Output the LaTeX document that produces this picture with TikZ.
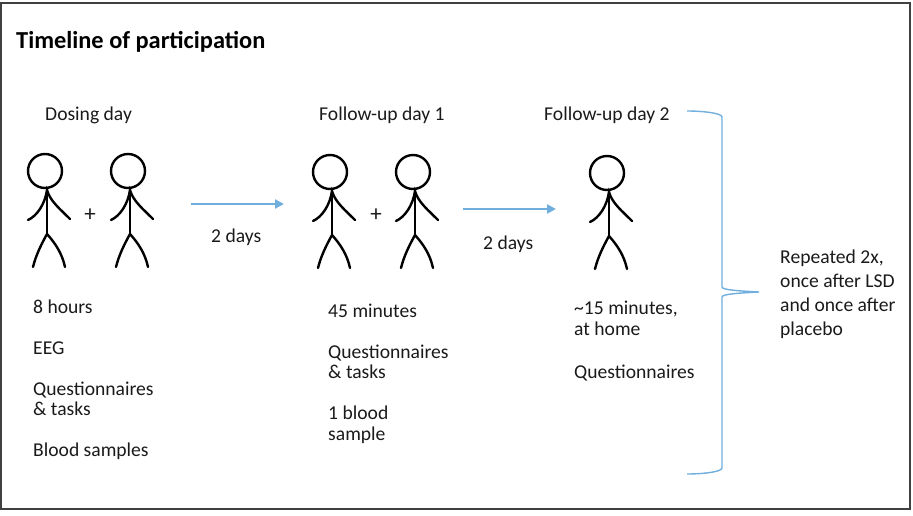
\documentclass[tikz,border=0pt]{standalone}
\usepackage{fontspec}
\setmainfont{Carlito}
\usetikzlibrary{arrows.meta}
\definecolor{arrowblue}{HTML}{6FAEDD}
\definecolor{inkc}{HTML}{1A1A1A}
\tikzset{
  txt/.style={anchor=base west,inner sep=0pt,font=\fontsize{19.6pt}{23pt}\selectfont,text=inkc,align=left},
  plus/.style={anchor=center,inner sep=0pt,font=\fontsize{23pt}{26pt}\selectfont,text=inkc},
  flow/.style={draw=arrowblue,line width=2.2pt,-{Stealth[length=9pt,width=9pt,inset=0pt]}},
  fig/.style={line width=2.4pt,black,line cap=round},
}
\newcommand{\stick}[2]{%
  \begin{scope}[shift={(#1,#2)}]
  \draw[fig] (0,0) circle (17);
  \draw[fig] (2,17) -- (2,63);
  \draw[fig] (-17,49) .. controls (-8,45) and (0,33) .. (2,19) .. controls (5,30) and (15,38) .. (25,48);
  \draw[fig] (-12,96) .. controls (-9,84) and (-4,74) .. (2,63) .. controls (10,72) and (17,82) .. (20,96);
  \end{scope}}
\begin{document}
\begin{tikzpicture}[x=1pt,y=-1pt]
\useasboundingbox (0,0) rectangle (913,516);
\draw[line width=1.2pt,black!75] (1,3) rectangle (910,509);
\node[txt,font=\fontsize{24.4pt}{28pt}\selectfont\bfseries,text=black] (title) at (16,49) {Timeline of participation};
\node[txt] (d1) at (45,121) {Dosing day};
\node[txt] (d2) at (319,121) {Follow-up day 1};
\node[txt] (d3) at (544,121) {Follow-up day 2};
\stick{45}{171}\stick{128}{171}\stick{330}{172}\stick{413}{172}\stick{607}{173}
\node[plus] (p1) at (90,215) {+};
\node[plus] (p2) at (376,215) {+};
\coordinate (a1s) at (191,204);\coordinate (a1e) at (284,204);
\coordinate (a2s) at (463,209);\coordinate (a2e) at (556,209);
\draw[flow] (a1s) -- (a1e);
\draw[flow] (a2s) -- (a2e);
\node[txt] (t1) at (211,242) {2 days};
\node[txt] (t2) at (483,249) {2 days};
\node[txt] at (33,313) {8 hours};
\node[txt] at (33,354) {EEG};
\node[txt] at (33,395) {Questionnaires};
\node[txt] at (33,415) {\&\ tasks};
\node[txt] at (33,456) {Blood samples};
\node[txt] at (328,317) {45 minutes};
\node[txt] at (328,358) {Questionnaires};
\node[txt] at (328,378) {\&\ tasks};
\node[txt] at (328,419) {1 blood};
\node[txt] at (328,440) {sample};
\node[txt] at (574,314) {\textasciitilde15 minutes,};
\node[txt] at (574,335) {at home};
\node[txt] at (574,378) {Questionnaires};
\node[txt] at (780,263) {Repeated 2x,};
\node[txt] at (780,287) {once after LSD};
\node[txt] at (780,311) {and once after};
\node[txt] at (780,335) {placebo};
\draw[draw=arrowblue,line width=1.4pt] (687,111) .. controls (702,111) and (722,113) .. (722,117) -- (722,287) .. controls (722,290) and (740,291) .. (759,292) .. controls (740,293) and (722,294) .. (722,297) -- (722,468) .. controls (722,472) and (702,474) .. (687,474);
\end{tikzpicture}
\end{document}
